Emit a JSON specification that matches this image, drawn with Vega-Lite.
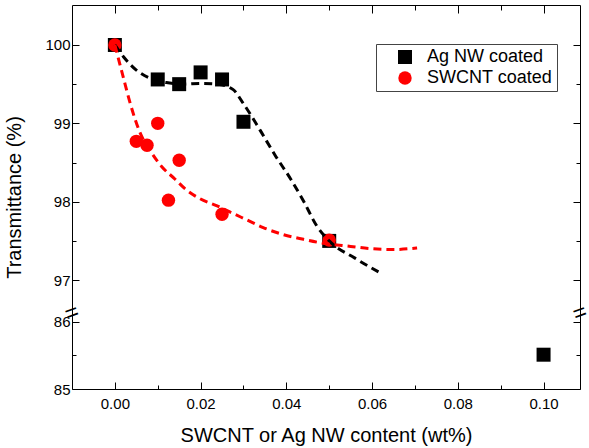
{
  "$schema": "https://vega.github.io/schema/vega-lite/v6.json",
  "width": 508,
  "height": 384,
  "autosize": {"type": "none"},
  "padding": {"left": 72, "top": 5, "right": 9, "bottom": 59},
  "config": {
    "font": "Liberation Sans",
    "view": {"stroke": null},
    "axis": {
      "domainColor": "black", "tickColor": "black", "labelColor": "black", "titleColor": "black",
      "grid": false, "labelFont": "Liberation Sans", "titleFont": "Liberation Sans",
      "labelFontSize": 15, "titleFontSize": 20, "titleFontWeight": "normal", "domainWidth": 1, "tickWidth": 1
    }
  },
  "datasets": {
    "pts": [
      {"series": "Ag NW coated", "content": 0.0, "T": 100.0},
      {"series": "Ag NW coated", "content": 0.01, "T": 99.56},
      {"series": "Ag NW coated", "content": 0.015, "T": 99.5},
      {"series": "Ag NW coated", "content": 0.02, "T": 99.65},
      {"series": "Ag NW coated", "content": 0.025, "T": 99.56},
      {"series": "Ag NW coated", "content": 0.03, "T": 99.02},
      {"series": "Ag NW coated", "content": 0.05, "T": 97.5},
      {"series": "Ag NW coated", "content": 0.1, "T": 85.51},
      {"series": "SWCNT coated", "content": 0.0, "T": 100.0},
      {"series": "SWCNT coated", "content": 0.005, "T": 98.77},
      {"series": "SWCNT coated", "content": 0.0075, "T": 98.72},
      {"series": "SWCNT coated", "content": 0.01, "T": 99.0},
      {"series": "SWCNT coated", "content": 0.0125, "T": 98.02},
      {"series": "SWCNT coated", "content": 0.015, "T": 98.53},
      {"series": "SWCNT coated", "content": 0.025, "T": 97.84},
      {"series": "SWCNT coated", "content": 0.05, "T": 97.51}
    ],
    "fitAg": [
      {"content": 0.0, "T": 100.0},
      {"content": 0.002, "T": 99.85},
      {"content": 0.005, "T": 99.68},
      {"content": 0.008, "T": 99.58},
      {"content": 0.012, "T": 99.52},
      {"content": 0.016, "T": 99.5},
      {"content": 0.02, "T": 99.51},
      {"content": 0.024, "T": 99.5},
      {"content": 0.0276, "T": 99.43},
      {"content": 0.03, "T": 99.25},
      {"content": 0.0338, "T": 98.92},
      {"content": 0.0373, "T": 98.6},
      {"content": 0.041, "T": 98.29},
      {"content": 0.044, "T": 98.01},
      {"content": 0.047, "T": 97.7},
      {"content": 0.05, "T": 97.5},
      {"content": 0.056, "T": 97.28},
      {"content": 0.0623, "T": 97.08}
    ],
    "fitSW": [
      {"content": 0.0, "T": 100.0},
      {"content": 0.002, "T": 99.58},
      {"content": 0.0035, "T": 99.27},
      {"content": 0.0058, "T": 98.89},
      {"content": 0.0086, "T": 98.62},
      {"content": 0.0109, "T": 98.45},
      {"content": 0.014, "T": 98.29},
      {"content": 0.0167, "T": 98.15},
      {"content": 0.0198, "T": 98.04},
      {"content": 0.0237, "T": 97.95},
      {"content": 0.0268, "T": 97.87},
      {"content": 0.0307, "T": 97.77},
      {"content": 0.0346, "T": 97.67},
      {"content": 0.0393, "T": 97.58},
      {"content": 0.044, "T": 97.52},
      {"content": 0.0486, "T": 97.47},
      {"content": 0.055, "T": 97.43},
      {"content": 0.06, "T": 97.4},
      {"content": 0.065, "T": 97.39},
      {"content": 0.0705, "T": 97.41}
    ],
    "breaks": [
      {"content": -0.01, "T": 91},
      {"content": 0.1085, "T": 91}
    ]
  },
  "layer": [
    {
      "data": {"name": "pts"},
      "mark": {"type": "point", "filled": true, "opacity": 1, "strokeWidth": 0},
      "encoding": {
        "x": {"field": "content", "type": "quantitative", "scale": {"domain": [-0.01, 0.1085], "nice": false, "zero": false},
          "axis": {"orient": "bottom", "values": [0, 0.01, 0.02, 0.03, 0.04, 0.05, 0.06, 0.07, 0.08, 0.09, 0.1],
            "labelExpr": "round(datum.value*100) % 2 == 0 ? format(datum.value, '.2f') : ''",
            "tickSize": {"condition": {"test": "round(datum.value*100) % 2 == 1", "value": -4}, "value": -7},
            "labelPadding": 14, "title": "SWCNT or Ag NW content (wt%)", "titlePadding": 14}},
        "y": {"field": "T", "type": "quantitative", "scale": {"type": "linear", "domain": [85, 86.13, 96.58, 100.51], "range": [384, 308, 308, 0], "nice": false, "zero": false},
          "axis": {"orient": "left", "values": [85, 85.5, 86, 97, 97.5, 98, 98.5, 99, 99.5, 100],
            "labelExpr": "datum.value % 1 == 0 ? format(datum.value, 'd') : ''",
            "tickSize": {"condition": {"test": "datum.value % 1 != 0", "value": -4}, "value": -7},
            "labelPadding": 9, "title": "Transmittance (%)", "titlePadding": 20}},
        "color": {"field": "series", "type": "nominal", "scale": {"domain": ["Ag NW coated", "SWCNT coated"], "range": ["#000000", "#ff0000"]},
          "legend": {"orient": "none", "legendX": 304, "legendY": 39, "title": null, "strokeColor": "#444444", "padding": 4, "labelFontSize": 18, "labelFont": "Liberation Sans", "labelColor": "black", "labelOffset": 13, "symbolOffset": 16, "rowPadding": 3, "fillColor": "white"}},
        "shape": {"field": "series", "type": "nominal", "scale": {"domain": ["Ag NW coated", "SWCNT coated"], "range": ["square", "circle"]}},
        "size": {"field": "series", "type": "nominal", "scale": {"domain": ["Ag NW coated", "SWCNT coated"], "range": [196, 180]}}
      }
    },
    {
      "data": {"name": "fitAg"},
      "mark": {"type": "line", "color": "black", "strokeDash": [8, 5], "strokeWidth": 3, "interpolate": "monotone"},
      "encoding": {
        "x": {"field": "content", "type": "quantitative", "axis": null},
        "y": {"field": "T", "type": "quantitative", "axis": null}
      }
    },
    {
      "data": {"name": "fitSW"},
      "mark": {"type": "line", "color": "#ff0000", "strokeDash": [8, 5], "strokeWidth": 3, "interpolate": "monotone"},
      "encoding": {
        "x": {"field": "content", "type": "quantitative",
          "axis": {"orient": "top", "values": [0, 0.01, 0.02, 0.03, 0.04, 0.05, 0.06, 0.07, 0.08, 0.09, 0.1], "labels": false, "title": null,
            "tickSize": {"condition": {"test": "round(datum.value*100) % 2 == 1", "value": -5}, "value": -8}}},
        "y": {"field": "T", "type": "quantitative",
          "axis": {"orient": "right", "values": [85, 85.5, 86, 97, 97.5, 98, 98.5, 99, 99.5, 100], "labels": false, "title": null,
            "tickSize": {"condition": {"test": "datum.value % 1 != 0", "value": -4}, "value": -7}}}
      }
    },
    {
      "data": {"name": "breaks"},
      "mark": {"type": "text", "text": "=", "fontSize": 23, "angle": 340, "color": "black", "font": "Liberation Sans", "align": "center", "baseline": "middle"},
      "encoding": {
        "x": {"field": "content", "type": "quantitative", "axis": null},
        "y": {"field": "T", "type": "quantitative", "axis": null}
      }
    }
  ],
  "resolve": {"axis": {"x": "independent", "y": "independent"}}
}
